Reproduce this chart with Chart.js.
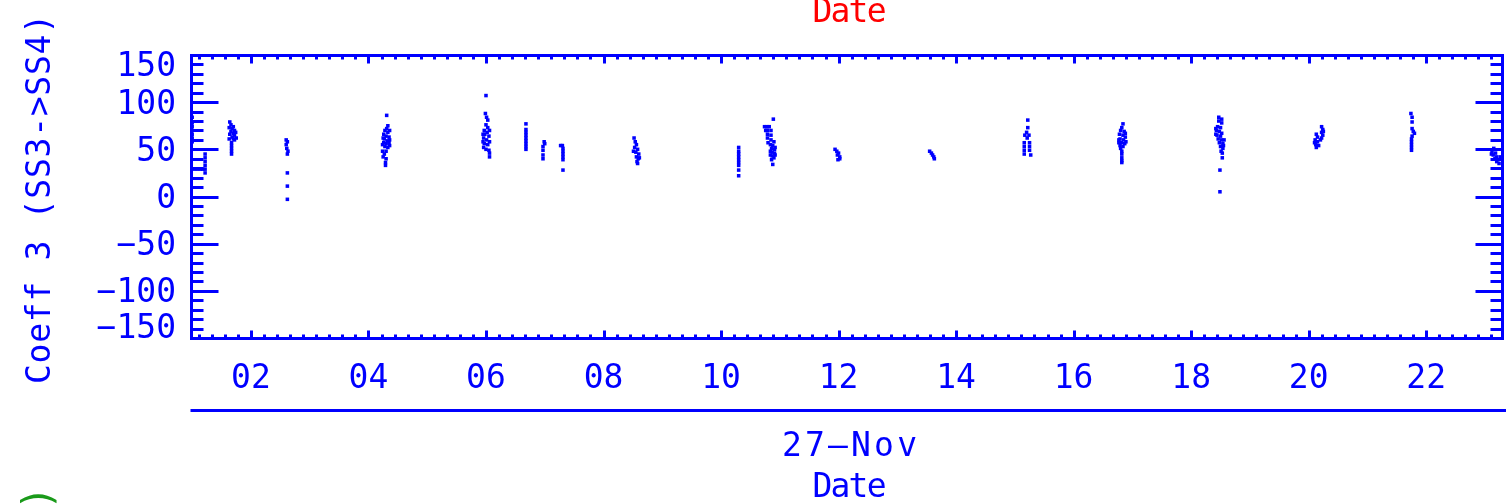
<!DOCTYPE html>
<html><head><meta charset="utf-8">
<script src="https://cdn.jsdelivr.net/npm/chart.js@4/dist/chart.umd.min.js"></script>
<style>html,body{margin:0;padding:0;background:#fff;overflow:hidden}#wrap{position:relative;width:1506px;height:504px}</style>
</head><body><div id="wrap"><canvas id="c" width="1506" height="504"></canvas></div>
<script>
// ---- data (hours of 27-Nov, Coeff 3 values) ----
const HOURS = [
  1.00,1.00,1.00,1.00,1.00,1.00,1.00, 1.22,1.22,1.22,1.22,1.22,1.22, 1.04,1.09,1.14,1.18,
  1.64,1.66,1.70,1.68,1.72,1.66,1.70,1.72,1.68,1.70,1.72,1.67,1.67,1.67,1.67,1.67, 1.63,1.74,1.64,1.75,1.63,
  2.60,2.62,2.60,2.61,2.63,2.62,2.62,2.62,2.62,
  4.31,4.33,4.31,4.28,4.33,4.26,4.30,4.35,4.27,4.32,4.26,4.30,4.36,4.28,4.33,4.24,4.30,4.27,4.25,4.30,4.29,4.29, 4.36,4.25,4.36,4.24,4.35,
  6.00,5.99,6.01,6.03,6.00,6.03,5.97,6.02,5.98,6.05,5.96,6.01,6.06,5.97,6.03,5.96,6.00,6.05,6.06,6.06, 5.95,6.06,5.95,
  6.68,6.68,6.68,6.68,6.68,6.68,6.68,6.68,6.68,
  6.99,7.00,6.97,6.97,6.97,6.97,
  7.27,7.30,7.31,7.31,7.31,7.31,7.31,7.31,
  8.52,8.54,8.56,8.53,8.58,8.55,8.60,8.56,8.59,8.57,8.58, 8.51,8.61,
  10.30,10.30,10.30,10.30,10.30,10.30,10.30,10.30,10.30,
  10.89,10.74,10.78,10.82,10.79,10.85,10.79,10.85,10.79,10.85,10.80,10.84,10.88,10.86,10.91,10.87,10.91,10.87,10.90,10.86,10.88, 10.76,10.90,10.92,10.84,10.92,10.84,
  11.94,11.97,12.00,11.98,12.02,12.02,11.99,
  13.55,13.58,13.60,13.62,13.63,
  15.22,15.22,15.20,15.17,15.24,15.21,15.16,15.16,15.16,15.16,15.25,15.25,15.25,15.27,
  16.84,16.82,16.80,16.86,16.78,16.84,16.88,16.79,16.85,16.81,16.87,16.79,16.84,16.80,16.82,16.82,16.82,16.82,16.82, 16.77,16.89,16.77,16.88,
  18.47,18.52,18.47,18.52,18.45,18.50,18.43,18.48,18.52,18.44,18.50,18.46,18.52,18.48,18.54,18.50,18.54,18.51,18.53,18.53,18.49,18.49, 18.42,18.56,18.42,18.55,
  20.22,20.24,20.22,20.24,20.22,20.13,20.15,20.11,20.15,20.12,20.17,20.13, 20.10,20.25,20.20,
  21.74,21.76,21.76,21.76,21.78,21.80,21.76,21.75,21.75,21.75,21.75,21.75,
  23.15,23.12,23.18,23.14,23.20,23.17,23.22,23.20,23.24, 23.26,23.11
];
const COEFF3 = [
  84,78,74,70,66,62,58, 45,41,37,33,29,25, 29,29,29,29,
  79,76,74,72,70,69,67,65,63,61,60,57,54,51,48,45, 73,68,66,62,61,
  60,58,55,51,48,45,25,11,-3,
  86,75,72,70,68,66,64,63,61,59,57,56,54,53,52,48,48,45,42,40,36,33, 70,62,60,55,57,
  107,88,84,81,76,73,70,68,66,64,62,60,58,56,55,52,50,49,46,42, 66,70,58,
  77,71,68,65,62,59,56,53,50,
  58,56,53,49,44,40,
  54,54,51,48,45,42,39,28,
  62,58,55,52,50,47,45,42,40,37,35, 48,41,
  52,48,45,42,39,36,33,28,22,
  82,74,74,74,70,70,66,65,62,60,57,55,54,51,50,47,46,43,41,39,34, 70,58,52,48,44,44,
  50,48,46,44,42,40,39,
  48,46,44,42,40,
  81,73,68,65,65,62,57,53,49,45,57,53,49,44,
  77,73,70,69,66,65,63,61,60,57,56,54,53,51,48,45,41,38,36, 60,58,57,67,
  84,82,80,78,74,73,70,69,67,65,64,61,60,57,56,53,51,48,46,41,28,5, 72,60,66,54,
  74,71,68,65,62,66,63,60,58,55,54,52, 57,69,60,
  88,84,79,72,69,67,64,61,58,55,52,49,
  51,47,46,44,42,40,39,37,35, 42,45
];
const X_RANGE = [0.98, 23.29];
const Y_RANGE = [-150, 150];
const X_TICK_HOURS = [2,4,6,8,10,12,14,16,18,20,22];
const X_TICK_LABELS = ['02','04','06','08','10','12','14','16','18','20','22'];
const X_MINOR_PER_MAJOR = 9;
const Y_TICK_VALUES = [-150,-100,-50,0,50,100,150];
const Y_TICK_LABELS = ['\u2212150','\u2212100','\u221250','0','50','100','150'];
const Y_MINOR_STEP = 10;
const DAY_LABEL = '27\u2013Nov';
const X_TITLE = 'Date';
const Y_TITLE = 'Coeff 3 (SS3->SS4)';
const PREV_X_TITLE = 'Date';
const NEXT_Y_TITLE_END = ')';

const BLUE = '#0000ff', RED = '#ff0000', GREEN = '#1a9a1a';
const FONT = '33px "DejaVu Sans Mono", monospace';

function spacedText(ctx, text, x, y, width) {
  ctx.letterSpacing = '0px';
  const w0 = ctx.measureText(text).width;
  const n = text.length;
  const s = n > 1 ? (width - w0) / (n - 1) : 0;
  ctx.letterSpacing = s + 'px';
  ctx.textAlign = 'left';
  ctx.fillText(text, x - width / 2, y);
  ctx.letterSpacing = '0px';
}

const idlAxes = {
  id: 'idlAxes',
  afterDraw(chart) {
    const { ctx, chartArea: a, scales: { x, y } } = chart;
    ctx.save();
    ctx.strokeStyle = BLUE; ctx.fillStyle = BLUE; ctx.lineWidth = 3;
    const L = a.left + 0.5, R = a.right + 0.5, T = a.top + 0.5, B = a.bottom + 0.5;
    ctx.beginPath();
    ctx.rect(L, T, R - L, B - T);
    // y ticks
    for (let v = Y_RANGE[0]; v <= Y_RANGE[1]; v += Y_MINOR_STEP) {
      const py = Math.round(y.getPixelForValue(v)) + 0.5;
      const len = (v % 50 === 0) ? 27 : 12;
      ctx.moveTo(L, py); ctx.lineTo(L + len, py);
      ctx.moveTo(R, py); ctx.lineTo(R - len, py);
    }
    // x ticks
    const step = 2 / X_MINOR_PER_MAJOR;
    const k0 = Math.ceil((X_RANGE[0] - 2) / step), k1 = Math.floor((X_RANGE[1] - 2) / step);
    for (let k = k0; k <= k1; k++) {
      const px = Math.round(x.getPixelForValue(2 + k * step)) + 0.5;
      const len = (k % X_MINOR_PER_MAJOR === 0) ? 8 : 4;
      ctx.moveTo(px, T); ctx.lineTo(px, T + len);
      ctx.moveTo(px, B); ctx.lineTo(px, B - len);
    }
    // second-level (day) axis line
    ctx.moveTo(L - 1, 410.5); ctx.lineTo(chart.width, 410.5);
    ctx.stroke();

    ctx.font = FONT; ctx.textBaseline = 'middle';
    // y tick labels
    ctx.textAlign = 'right';
    Y_TICK_VALUES.forEach((v, i) => {
      let py = y.getPixelForValue(v) + 3;
      py = Math.min(Math.max(py, a.top + 12), a.bottom - 9);
      ctx.fillText(Y_TICK_LABELS[i], 176, py);
    });
    // x tick labels
    ctx.textAlign = 'center';
    X_TICK_HOURS.forEach((h, i) => {
      ctx.fillText(X_TICK_LABELS[i], x.getPixelForValue(h), 379);
    });
    const mid = (a.left + a.right) / 2 + 3;
    spacedText(ctx, DAY_LABEL, mid, 447, 135);
    spacedText(ctx, X_TITLE, mid, 488, 74);
    ctx.fillStyle = RED;
    spacedText(ctx, PREV_X_TITLE, mid, 13, 74);
    // y title
    ctx.fillStyle = BLUE;
    ctx.save();
    ctx.translate(41, 199);
    ctx.rotate(-Math.PI / 2);
    spacedText(ctx, Y_TITLE, 0, 0, 370);
    ctx.restore();
    // next panel's y title (only its end visible)
    ctx.fillStyle = GREEN;
    ctx.save();
    ctx.translate(41, 486);
    ctx.rotate(-Math.PI / 2);
    ctx.font = '40px "DejaVu Sans Mono", monospace';
    ctx.textAlign = 'right';
    ctx.fillText(NEXT_Y_TITLE_END, 0, 0);
    ctx.restore();
    ctx.restore();
  }
};

new Chart(document.getElementById('c'), {
  type: 'scatter',
  data: {
    datasets: [{
      data: HOURS.map((h, i) => ({ x: h, y: COEFF3[i] })),
      showLine: false,
      pointStyle: 'rect',
      pointRadius: 2.5,
      pointBorderWidth: 0,
      pointBackgroundColor: BLUE,
      pointBorderColor: BLUE,
      clip: 6
    }]
  },
  options: {
    responsive: false, animation: false, devicePixelRatio: 1,
    layout: { padding: { left: 191, right: 2, top: 55, bottom: 166 } },
    scales: {
      x: { type: 'linear', min: X_RANGE[0], max: X_RANGE[1], display: false },
      y: { type: 'linear', min: Y_RANGE[0], max: Y_RANGE[1], display: false }
    },
    plugins: { legend: { display: false }, tooltip: { enabled: false } }
  },
  plugins: [idlAxes]
});
</script></body></html>
